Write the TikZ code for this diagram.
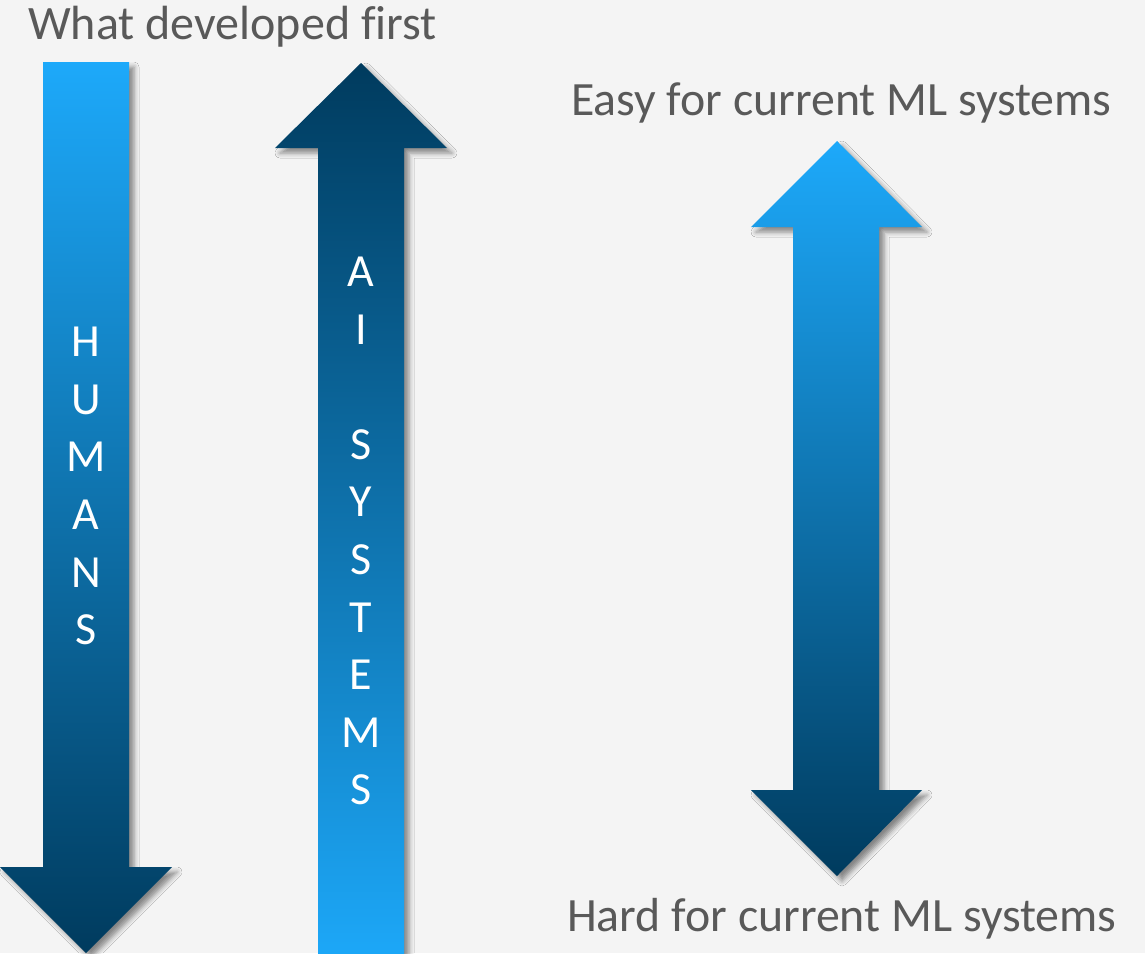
\documentclass[tikz,border=0pt]{standalone}
\usepackage{fontspec}
\setmainfont[Ligatures=NoCommon]{Carlito}
\usetikzlibrary{shadows.blur}

\definecolor{bgcol}{HTML}{F4F4F4}
\definecolor{skyblue}{HTML}{1DA9FA}
\definecolor{navyblue}{HTML}{003B5E}
\definecolor{labelgrey}{HTML}{595959}

\tikzset{
  arrowshape/.style={blur shadow={shadow xshift=5pt, shadow yshift=-5pt,
      shadow blur radius=5pt, shadow opacity=45}},
  lighttop/.style={arrowshape, top color=skyblue, bottom color=navyblue},
  darktop/.style={arrowshape, top color=navyblue, bottom color=skyblue},
  caption/.style={text=labelgrey, font=\fontsize{47.8}{58}\selectfont, inner sep=0pt},
  letters/.style={text=white, align=center, inner sep=0pt,
      font=\fontsize{46}{57.6}\selectfont},
}

\begin{document}
\begin{tikzpicture}[x=1pt, y=-1pt]
  % canvas
  \fill[bgcol] (0,0) rectangle (1145,953);
  \useasboundingbox (0,0) rectangle (1145,953);

  % downward arrow: humans
  \path[lighttop] (43,62) -- (129,62) -- (129,867) -- (172,867) -- (86,953)
    -- (0,867) -- (43,867) -- cycle;
  \node[letters] (humans) at (86,486) {H\\U\\M\\A\\N\\S};

  % upward arrow: AI systems
  \path[darktop] (361,63) -- (447,148) -- (404,148) -- (404,970) -- (318,970)
    -- (318,148) -- (275,148) -- cycle;
  \node[letters] (aisys) at (361,531) {A\\I\\[57.6pt]S\\Y\\S\\T\\E\\M\\S};

  % double arrow: easy vs hard
  \path[lighttop] (837,141) -- (922,227) -- (879,227) -- (879,790) -- (922,790)
    -- (837,876) -- (751,790) -- (793,790) -- (793,227) -- (751,227) -- cycle;

  % captions
  \node[caption, anchor=base west, font=\fontsize{48}{58}\selectfont]
    (first) at (28,39) {What developed first};
  \node[caption, anchor=base west] (easy) at (571,115.5) {Easy for current ML systems};
  \node[caption, anchor=base west] (hard) at (567,931) {Hard for current ML systems};
\end{tikzpicture}
\end{document}
